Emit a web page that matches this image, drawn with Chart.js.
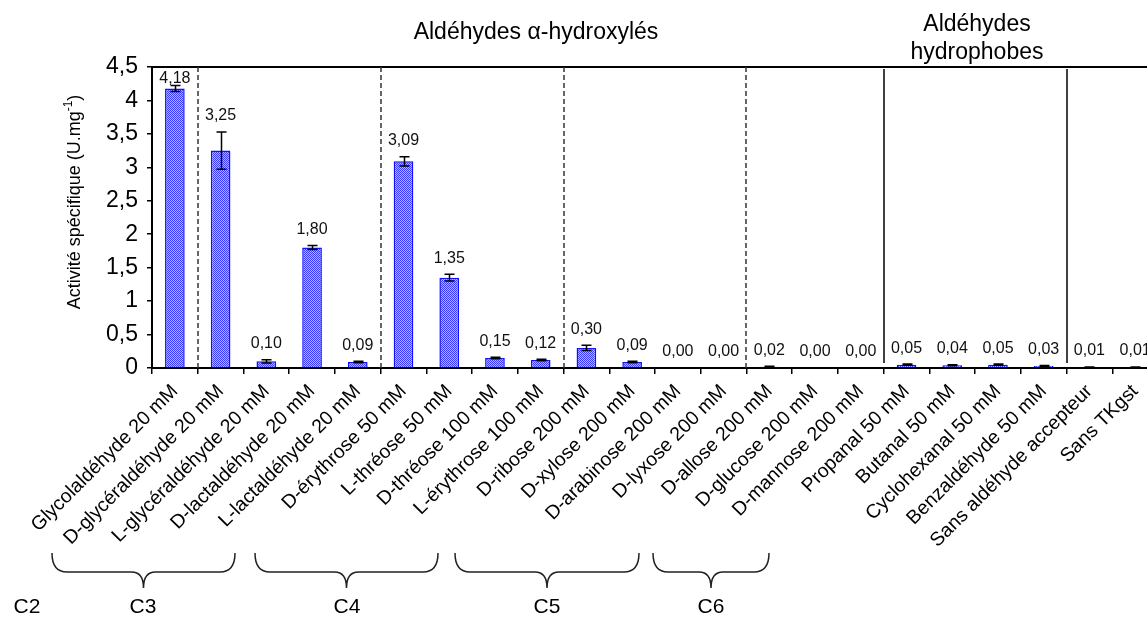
<!DOCTYPE html>
<html>
<head>
<meta charset="utf-8">
<script src="https://cdn.jsdelivr.net/npm/chart.js@4.4.0/dist/chart.umd.min.js"></script>
<style>
  html, body { margin: 0; padding: 0; background: #fff; overflow: hidden; width: 1147px; height: 617px; }
  canvas { display: block; }
</style>
</head>
<body>
<canvas id="c" width="1172" height="617" style="width:1172px;height:617px"></canvas>
<script>
// Substrates tested (acceptor aldehydes and controls)
const categories = [
  'Glycolaldéhyde 20 mM', 'D-glycéraldéhyde 20 mM', 'L-glycéraldéhyde 20 mM',
  'D-lactaldéhyde 20 mM', 'L-lactaldéhyde 20 mM', 'D-érythrose 50 mM',
  'L-thréose 50 mM', 'D-thréose 100 mM', 'L-érythrose 100 mM',
  'D-ribose 200 mM', 'D-xylose 200 mM', 'D-arabinose 200 mM', 'D-lyxose 200 mM',
  'D-allose 200 mM', 'D-glucose 200 mM', 'D-mannose 200 mM',
  'Propanal 50 mM', 'Butanal 50 mM', 'Cyclohexanal 50 mM', 'Benzaldéhyde 50 mM',
  'Sans aldéhyde accepteur', 'Sans TKgst'
];

// Specific activity (U.mg-1)
const activity = [
  4.18, 3.25, 0.10, 1.80, 0.09, 3.09, 1.35, 0.15, 0.12,
  0.30, 0.09, 0.00, 0.00, 0.02, 0.00, 0.00,
  0.05, 0.04, 0.05, 0.03, 0.01, 0.01
];

// Standard deviation of each measurement
const deviation = [
  0.045, 0.28, 0.025, 0.03, 0.01, 0.07, 0.05, 0.012, 0.012,
  0.04, 0.012, 0, 0, 0.008, 0, 0,
  0.008, 0.008, 0.008, 0.008, 0.004, 0.004
];

// Value axis tick labels (French decimal comma)
const yTickLabels = ['0', '0,5', '1', '1,5', '2', '2,5', '3', '3,5', '4', '4,5'];

// Group separators: dashed after these category indexes, solid after these
const dashedAfter = [0, 4, 8, 12];
const solidAfter = [15, 19];

// Carbon-chain groups shown with braces under the axis labels
const chainGroups = ['C2', 'C3', 'C4', 'C5', 'C6'];

const FONT = '"Liberation Sans", Arial, Helvetica, sans-serif';

// Layout of the annotations around the plot
const headerLayout = {
  hydroxyl: { x: 536, y: 33 },
  hydrophobic: { x: 977, y1: 25, y2: 53 }
};
const braceLayout = [
  null,
  { x1: 52, x2: 235 },
  { x1: 255, x2: 438 },
  { x1: 455, x2: 639 },
  { x1: 653, x2: 769 }
];
const chainLabelX = [27, 143, 347, 547, 711];

const canvas = document.getElementById('c');
const ctx0 = canvas.getContext('2d');

// Fine blue checker fill for the bars
function makeChecker(ctx) {
  const p = document.createElement('canvas');
  p.width = 2; p.height = 2;
  const g = p.getContext('2d');
  g.fillStyle = '#b4b4ff';
  g.fillRect(0, 0, 2, 2);
  g.fillStyle = '#3838ff';
  g.fillRect(0, 0, 1, 1);
  g.fillRect(1, 1, 1, 1);
  return ctx.createPattern(p, 'repeat');
}

function fmt(v) { return v.toFixed(2).replace('.', ','); }

const decor = {
  id: 'decor',
  beforeDatasetsDraw(chart) {
    const { ctx, chartArea: a, scales: { x } } = chart;
    const edge = i => (x.getPixelForValue(i) + x.getPixelForValue(i + 1)) / 2;
    ctx.save();
    // top frame line
    ctx.strokeStyle = '#000';
    ctx.lineWidth = 2;
    ctx.beginPath();
    ctx.moveTo(a.left, a.top);
    ctx.lineTo(a.right, a.top);
    ctx.stroke();
    // dashed separators between chain lengths
    ctx.strokeStyle = '#333';
    ctx.lineWidth = 1.5;
    ctx.setLineDash([5, 3]);
    dashedAfter.forEach(i => {
      const px = Math.round(edge(i));
      ctx.beginPath();
      ctx.moveTo(px, a.top);
      ctx.lineTo(px, a.bottom);
      ctx.stroke();
    });
    ctx.setLineDash([]);
    // solid separators between substrate families
    ctx.strokeStyle = '#000';
    ctx.lineWidth = 1.5;
    solidAfter.forEach(i => {
      const px = Math.round(edge(i));
      ctx.beginPath();
      ctx.moveTo(px, a.top + 2);
      ctx.lineTo(px, a.bottom - 5);
      ctx.stroke();
    });
    ctx.restore();
  },
  afterDatasetsDraw(chart) {
    const { ctx, chartArea: a, scales: { x, y } } = chart;
    ctx.save();
    // error bars
    ctx.strokeStyle = '#000';
    ctx.lineWidth = 1.5;
    activity.forEach((v, i) => {
      const e = deviation[i];
      if (!e) return;
      const cx = Math.round(x.getPixelForValue(i)) + 0.5;
      const yt = y.getPixelForValue(v + e);
      const yb = y.getPixelForValue(Math.max(v - e, 0));
      ctx.beginPath();
      ctx.moveTo(cx, yt); ctx.lineTo(cx, yb);
      ctx.moveTo(cx - 5, yt); ctx.lineTo(cx + 5, yt);
      ctx.moveTo(cx - 5, yb); ctx.lineTo(cx + 5, yb);
      ctx.stroke();
    });
    // value labels
    ctx.fillStyle = '#111';
    ctx.font = '16px ' + FONT;
    ctx.textAlign = 'center';
    ctx.textBaseline = 'middle';
    activity.forEach((v, i) => {
      const top = y.getPixelForValue(v + deviation[i]);
      const ly = Math.max(top - 16, a.top + 12);
      ctx.fillText(fmt(v), x.getPixelForValue(i), ly);
    });
    ctx.restore();
  },
  afterDraw(chart) {
    const { ctx } = chart;
    ctx.save();
    ctx.fillStyle = '#000';
    ctx.textAlign = 'center';
    ctx.textBaseline = 'middle';
    // family headers
    ctx.font = '23px ' + FONT;
    ctx.fillText('Aldéhydes α-hydroxylés', headerLayout.hydroxyl.x, headerLayout.hydroxyl.y);
    ctx.fillText('Aldéhydes', headerLayout.hydrophobic.x, headerLayout.hydrophobic.y1);
    ctx.fillText('hydrophobes', headerLayout.hydrophobic.x, headerLayout.hydrophobic.y2);

    // braces grouping chain lengths
    ctx.strokeStyle = '#222';
    ctx.lineWidth = 1.5;
    const yTop = 553, yMid = 572, yTip = 588, r = 15, rt = 12;
    braceLayout.forEach(b => {
      if (!b) return;
      const t = (b.x1 + b.x2) / 2;
      ctx.beginPath();
      ctx.moveTo(b.x1, yTop);
      ctx.quadraticCurveTo(b.x1, yMid, b.x1 + r, yMid);
      ctx.lineTo(t - rt, yMid);
      ctx.quadraticCurveTo(t, yMid, t, yTip);
      ctx.quadraticCurveTo(t, yMid, t + rt, yMid);
      ctx.lineTo(b.x2 - r, yMid);
      ctx.quadraticCurveTo(b.x2, yMid, b.x2, yTop);
      ctx.stroke();
    });
    ctx.font = '21px ' + FONT;
    chainGroups.forEach((g, i) => ctx.fillText(g, chainLabelX[i], 607));

    // value axis title with superscript
    ctx.translate(75, 202);
    ctx.rotate(-Math.PI / 2);
    const main = '18px ' + FONT, sup = '12px ' + FONT;
    const p1 = 'Activité spécifique (U.mg', p2 = '-1', p3 = ')';
    ctx.font = main; const w1 = ctx.measureText(p1).width, w3 = ctx.measureText(p3).width;
    ctx.font = sup; const w2 = ctx.measureText(p2).width;
    let sx = -(w1 + w2 + w3) / 2;
    ctx.textAlign = 'left';
    ctx.font = main; ctx.fillText(p1, sx, 0); sx += w1;
    ctx.font = sup; ctx.fillText(p2, sx, -6); sx += w2;
    ctx.font = main; ctx.fillText(p3, sx, 0);
    ctx.restore();
  }
};

new Chart(ctx0, {
  type: 'bar',
  data: {
    labels: categories,
    datasets: [{
      data: activity,
      backgroundColor: makeChecker(ctx0),
      borderColor: '#1010ff',
      borderWidth: 1.5,
      borderSkipped: 'bottom',
      barPercentage: 0.43,
      categoryPercentage: 1.0
    }]
  },
  options: {
    responsive: false,
    animation: false,
    devicePixelRatio: 1,
    layout: { padding: { top: 67, right: 14, bottom: 0, left: 0 } },
    plugins: { legend: { display: false }, tooltip: { enabled: false } },
    scales: {
      x: {
        offset: true,
        grid: { offset: true, drawOnChartArea: false, drawTicks: true, tickLength: 6, color: '#000', lineWidth: 1.5 },
        border: { display: true, color: '#000', width: 2 },
        ticks: {
          autoSkip: false, maxRotation: 45, minRotation: 45, padding: 6,
          color: '#000', font: { family: FONT, size: 19.5 }
        },
        afterFit(s) { s.height = 249; }
      },
      y: {
        min: 0, max: 4.5,
        grid: { drawOnChartArea: false, drawTicks: true, tickLength: 5, color: '#000', lineWidth: 1.5 },
        border: { display: true, color: '#000', width: 2 },
        ticks: {
          stepSize: 0.5, padding: 9, color: '#000',
          font: { family: FONT, size: 23 },
          callback: (v, i) => yTickLabels[i]
        },
        afterFit(s) { s.width = 152; }
      }
    }
  },
  plugins: [decor]
});
</script>
</body>
</html>
